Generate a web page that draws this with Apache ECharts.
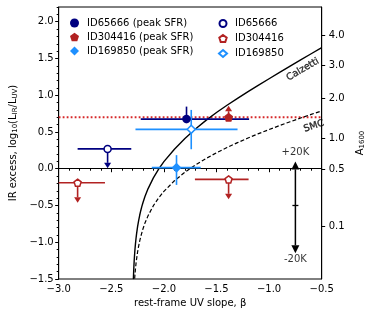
<!DOCTYPE html>
<html><head><meta charset="utf-8">
<script src="https://cdn.jsdelivr.net/npm/echarts@6/dist/echarts.min.js"></script>
<style>html,body{margin:0;padding:0;background:#fff}#c{width:374px;height:319px}</style>
</head><body><div id="c"></div><script>
// ---- tick labels ----
const xTicks = [-3.0, -2.5, -2.0, -1.5, -1.0, -0.5];
const yTicks = [-1.5, -1.0, -0.5, 0.0, 0.5, 1.0, 1.5, 2.0];
const a1600Ticks = [4.0, 3.0, 2.0, 1.0, 0.5, 0.1];
const a1600Pos = [1.819, 1.402, 0.955, 0.41, -0.003, -0.785];

// ---- curves (beta, IRX) ----
const calzBeta = [-2.29, -2.2875, -2.285, -2.2825, -2.28, -2.275, -2.27, -2.265, -2.26, -2.25, -2.24, -2.23, -2.22, -2.21, -2.2, -2.18, -2.15, -2.1, -2.05, -2.0, -1.9, -1.8, -1.7, -1.6, -1.5, -1.4, -1.3, -1.2, -1.1, -1.0, -0.9, -0.8, -0.7, -0.6, -0.5];
const calzIrx = [-1.502, -1.405, -1.325, -1.257, -1.197, -1.098, -1.018, -0.949, -0.889, -0.788, -0.705, -0.633, -0.571, -0.516, -0.466, -0.378, -0.270, -0.124, -0.005, 0.096, 0.265, 0.41, 0.54, 0.658, 0.765, 0.864, 0.958, 1.049, 1.137, 1.224, 1.310, 1.396, 1.480, 1.564, 1.647];
const smcBeta = [-2.278, -2.275, -2.27, -2.265, -2.26, -2.25, -2.24, -2.23, -2.22, -2.2, -2.18, -2.15, -2.1, -2.05, -2.0, -1.9, -1.8, -1.7, -1.6, -1.5, -1.4, -1.3, -1.2, -1.1, -1.0, -0.9, -0.8, -0.7, -0.6, -0.5];
const smcIrx = [-1.495, -1.439, -1.359, -1.291, -1.232, -1.133, -1.052, -0.984, -0.924, -0.823, -0.739, -0.638, -0.503, -0.397, -0.308, -0.164, -0.047, 0.052, 0.139, 0.217, 0.289, 0.355, 0.418, 0.477, 0.533, 0.587, 0.639, 0.690, 0.739, 0.786];
const thresholdBeta = [-3.0, -0.5];
const thresholdIrx = [0.70, 0.70];

// ---- measurements: [beta, IRX] ----
const names = ['ID65666 (peak SFR)', 'ID304416 (peak SFR)', 'ID169850 (peak SFR)', 'ID65666', 'ID304416', 'ID169850'];
const id65666Peak = [[-1.785, 0.675]];
const id65666PeakErr = [[-2.22, -1.19, 0.62, 0.845]];      // xlo, xhi, ylo, yhi
const id304416Peak = [[-1.385, 0.70]];
const id304416PeakLim = [0.857];                            // lower limit arrow tip
const id169850Peak = [[-1.88, 0.015]];
const id169850PeakErr = [[-2.115, -1.65, -0.22, 0.185]];
const id65666Open = [[-2.535, 0.27]];
const id65666OpenErr = [[-2.82, -2.31, 0.27, 0.27]];
const id65666OpenLim = [0.005];                             // upper limit arrow tip
const id304416Open = [[-2.82, -0.19], [-1.385, -0.145]];
const id304416OpenErr = [[-3.0, -2.56, -0.19, -0.19], [-1.705, -1.195, -0.145, -0.145]];
const id304416OpenLim = [-0.463, -0.416];
const id169850Open = [[-1.74, 0.536]];
const id169850OpenErr = [[-2.27, -1.30, 0.265, 0.80]];

// ---- annotations ----
const kArrow = [[-0.75, -0.5, 0.1, -1.15]];   // beta, centre, top tip, bottom tip
const notes = [
  {text: 'Calzetti', beta: -0.68, irx: 1.35, rot: 30},
  {text: 'SMC', beta: -0.575, irx: 0.58, rot: 18},
  {text: '+20K', beta: -0.75, irx: 0.22, rot: 0},
  {text: '-20K', beta: -0.75, irx: -1.228, rot: 0}
];

const NAVY = '#000080', RED = '#b22222', BLUE = '#1e90ff';
const FONT = 'DejaVu Sans';
const PENT = 'path://M0,-1L0.951,-0.309L0.588,0.809L-0.588,0.809L-0.951,-0.309Z';
const fmt = v => (v < 0 ? '\u2212' : '') + Math.abs(v).toFixed(1);

function pairs(a, b) { return a.map((v, i) => [v, b[i]]); }

function errSeries(color, pts, errs) {
  return {
    type: 'custom', silent: true, z: 3, clip: true,
    data: pts.map((p, i) => [p[0], p[1]].concat(errs[i])),
    encode: {x: 0, y: 1},
    renderItem: function (params, api) {
      const x = api.value(0), y = api.value(1);
      const l = api.coord([api.value(2), y]), r = api.coord([api.value(3), y]);
      const b = api.coord([x, api.value(4)]), t = api.coord([x, api.value(5)]);
      const st = {stroke: color, lineWidth: 1.6, fill: null};
      return {type: 'group', children: [
        {type: 'line', shape: {x1: l[0], y1: l[1], x2: r[0], y2: r[1]}, style: st},
        {type: 'line', shape: {x1: b[0], y1: b[1], x2: t[0], y2: t[1]}, style: st}
      ]};
    }
  };
}

function limSeries(color, pts, tips) {
  return {
    type: 'custom', silent: true, z: 3,
    data: pts.map((p, i) => [p[0], p[1], tips[i]]),
    encode: {x: 0, y: 1},
    renderItem: function (params, api) {
      const c = api.coord([api.value(0), api.value(1)]);
      const t = api.coord([api.value(0), api.value(2)]);
      const d = t[1] > c[1] ? 1 : -1, h = 5.5, w = 3.5;
      return {type: 'group', children: [
        {type: 'line', shape: {x1: c[0], y1: c[1], x2: t[0], y2: t[1] - d * h}, style: {stroke: color, lineWidth: 1.6}},
        {type: 'polygon', shape: {points: [[t[0] - w, t[1] - d * h], [t[0] + w, t[1] - d * h], [t[0], t[1]]]}, style: {fill: color}}
      ]};
    }
  };
}

function pointSeries(name, symbol, size, color, filled, data) {
  return {
    type: 'scatter', name: name, symbol: symbol, symbolSize: size, z: 5,
    data: data,
    itemStyle: filled ? {color: color, opacity: 1} : {color: '#fff', borderColor: color, borderWidth: 1.5, opacity: 1},
    emphasis: {disabled: true}
  };
}

const chart = echarts.init(document.getElementById('c'), null, {renderer: 'canvas'});
const axisLine = {show: true, lineStyle: {color: '#000', width: 1}};
const option = {
  animation: false,
  backgroundColor: '#fff',
  textStyle: {fontFamily: FONT},
  grid: {left: 56, right: 46, top: 7, bottom: 40, show: true, borderColor: '#000', borderWidth: 1, backgroundColor: 'transparent'},
  legend: [
    {data: names.slice(0, 3), orient: 'vertical', left: 65, top: 13, itemWidth: 9, itemHeight: 9, itemGap: 4,
     textStyle: {fontSize: 10, color: '#000', fontFamily: FONT, padding: [0, 0, 0, 3]}, selectedMode: false},
    {data: names.slice(3), orient: 'vertical', left: 213, top: 13, itemWidth: 8, itemHeight: 7, itemGap: 4,
     textStyle: {fontSize: 10, color: '#000', fontFamily: FONT, height: 11, lineHeight: 11, padding: [0, 0, 0, 3]}, selectedMode: false}
  ],
  xAxis: {
    type: 'value', min: -3.0, max: -0.5, interval: 0.5,
    axisLine: axisLine,
    axisTick: {show: true, inside: false, length: 3.5, lineStyle: {color: '#000'}},
    minorTick: {show: true, splitNumber: 5, length: 2, lineStyle: {color: '#000'}},
    axisLabel: {fontSize: 10, color: '#000', margin: 5, formatter: fmt, fontFamily: FONT},
    splitLine: {show: false},
    name: 'rest-frame UV slope, \u03b2', nameLocation: 'middle', nameGap: 19,
    nameTextStyle: {fontSize: 10, color: '#000', fontFamily: FONT}
  },
  yAxis: [
    {
      type: 'value', min: -1.5, max: 2.2, interval: 0.5, position: 'left',
      axisLine: axisLine,
      axisTick: {show: true, length: 3.5, lineStyle: {color: '#000'}, customValues: yTicks},
      axisLabel: {fontSize: 10, color: '#000', margin: 5, formatter: fmt, customValues: yTicks, fontFamily: FONT},
      splitLine: {show: false},
      name: '{n|IR excess, log}{s|10}{n|(L}{s|IR}{n|/L}{s|UV}{n|)}',
      nameLocation: 'middle', nameGap: 34, nameRotate: 90,
      nameTextStyle: {fontSize: 10, color: '#000', fontFamily: FONT,
        rich: {n: {fontSize: 10, color: '#000', fontFamily: FONT}, s: {fontSize: 7, color: '#000', fontFamily: FONT, verticalAlign: 'bottom', padding: [4, 0, 0, 0]}}}
    },
    {
      type: 'value', min: -1.5, max: 2.2, position: 'right',
      axisLine: axisLine,
      axisTick: {show: true, length: 3.5, lineStyle: {color: '#000'}, customValues: a1600Pos},
      axisLabel: {fontSize: 10, color: '#000', margin: 7, customValues: a1600Pos, fontFamily: FONT,
        formatter: function (v) {
          let bi = 0;
          a1600Pos.forEach((p, i) => { if (Math.abs(p - v) < Math.abs(a1600Pos[bi] - v)) bi = i; });
          return a1600Ticks[bi].toFixed(1);
        }},
      splitLine: {show: false},
      name: '{n|A}{s|1600}', nameLocation: 'middle', nameGap: 26, nameRotate: 90,
      nameTextStyle: {fontSize: 10, color: '#000', fontFamily: FONT,
        rich: {n: {fontSize: 10, color: '#000', fontFamily: FONT}, s: {fontSize: 7, color: '#000', fontFamily: FONT, verticalAlign: 'bottom', padding: [4, 0, 0, 0]}}}
    },
    {
      type: 'value', min: -1.5, max: 2.2, interval: 0.1, position: 'left',
      axisLine: {show: false},
      axisTick: {show: true, length: 2, lineStyle: {color: '#000'}},
      axisLabel: {show: false},
      splitLine: {show: false}
    }
  ],
  series: [
    {type: 'line', name: 'thr', data: pairs(thresholdBeta, thresholdIrx), showSymbol: false, symbol: 'none', z: 1,
     lineStyle: {color: '#d62728', width: 1.8, type: [1.8, 2.2]}, silent: true},
    {type: 'line', name: 'Calzetti curve', data: pairs(calzBeta, calzIrx), showSymbol: false, symbol: 'none', z: 2, clip: true,
     lineStyle: {color: '#000', width: 1.4}, silent: true},
    {type: 'line', name: 'SMC curve', data: pairs(smcBeta, smcIrx), showSymbol: false, symbol: 'none', z: 2, clip: true,
     lineStyle: {color: '#000', width: 1.2, type: [4, 2.2]}, silent: true},
    errSeries(NAVY, id65666Open, id65666OpenErr),
    limSeries(NAVY, id65666Open, id65666OpenLim),
    errSeries(RED, id304416Open, id304416OpenErr),
    limSeries(RED, id304416Open, id304416OpenLim),
    limSeries(RED, id304416Peak, id304416PeakLim),
    errSeries(NAVY, id65666Peak, id65666PeakErr),
    errSeries(BLUE, id169850Open, id169850OpenErr),
    errSeries(BLUE, id169850Peak, id169850PeakErr),
    pointSeries(names[0], 'circle', 8.5, NAVY, true, id65666Peak),
    pointSeries(names[1], PENT, 9, RED, true, id304416Peak),
    pointSeries(names[2], 'diamond', 10, BLUE, true, id169850Peak),
    pointSeries(names[3], 'circle', 7, NAVY, false, id65666Open),
    pointSeries(names[4], PENT, 7, RED, false, id304416Open),
    pointSeries(names[5], 'diamond', 8, BLUE, false, id169850Open),
    {
      type: 'custom', silent: true, z: 3, data: kArrow, encode: {x: 0, y: 1},
      renderItem: function (params, api) {
        const x = api.value(0);
        const m = api.coord([x, api.value(1)]), t = api.coord([x, api.value(2)]), b = api.coord([x, api.value(3)]);
        const h = 8, w = 4;
        return {type: 'group', children: [
          {type: 'line', shape: {x1: t[0], y1: t[1] + h, x2: b[0], y2: b[1] - h}, style: {stroke: '#000', lineWidth: 1.5}},
          {type: 'line', shape: {x1: m[0] - 3, y1: m[1], x2: m[0] + 3, y2: m[1]}, style: {stroke: '#000', lineWidth: 1.3}},
          {type: 'polygon', shape: {points: [[t[0] - w, t[1] + h], [t[0] + w, t[1] + h], [t[0], t[1]]]}, style: {fill: '#000'}},
          {type: 'polygon', shape: {points: [[b[0] - w, b[1] - h], [b[0] + w, b[1] - h], [b[0], b[1]]]}, style: {fill: '#000'}}
        ]};
      }
    },
    {
      type: 'scatter', silent: true, symbolSize: 1, z: 6, itemStyle: {color: 'rgba(0,0,0,0)'},
      data: notes.map(n => ({value: [n.beta, n.irx], name: n.text,
        label: {show: true, position: 'inside', formatter: n.text, rotate: n.rot,
          fontSize: n.rot ? 9.5 : 10, color: '#000', fontFamily: FONT, align: 'center', verticalAlign: 'middle',
          textBorderColor: '#000', textBorderWidth: n.rot ? 0.35 : 0}}))
    }
  ]
};
chart.setOption(option);
</script></body></html>
